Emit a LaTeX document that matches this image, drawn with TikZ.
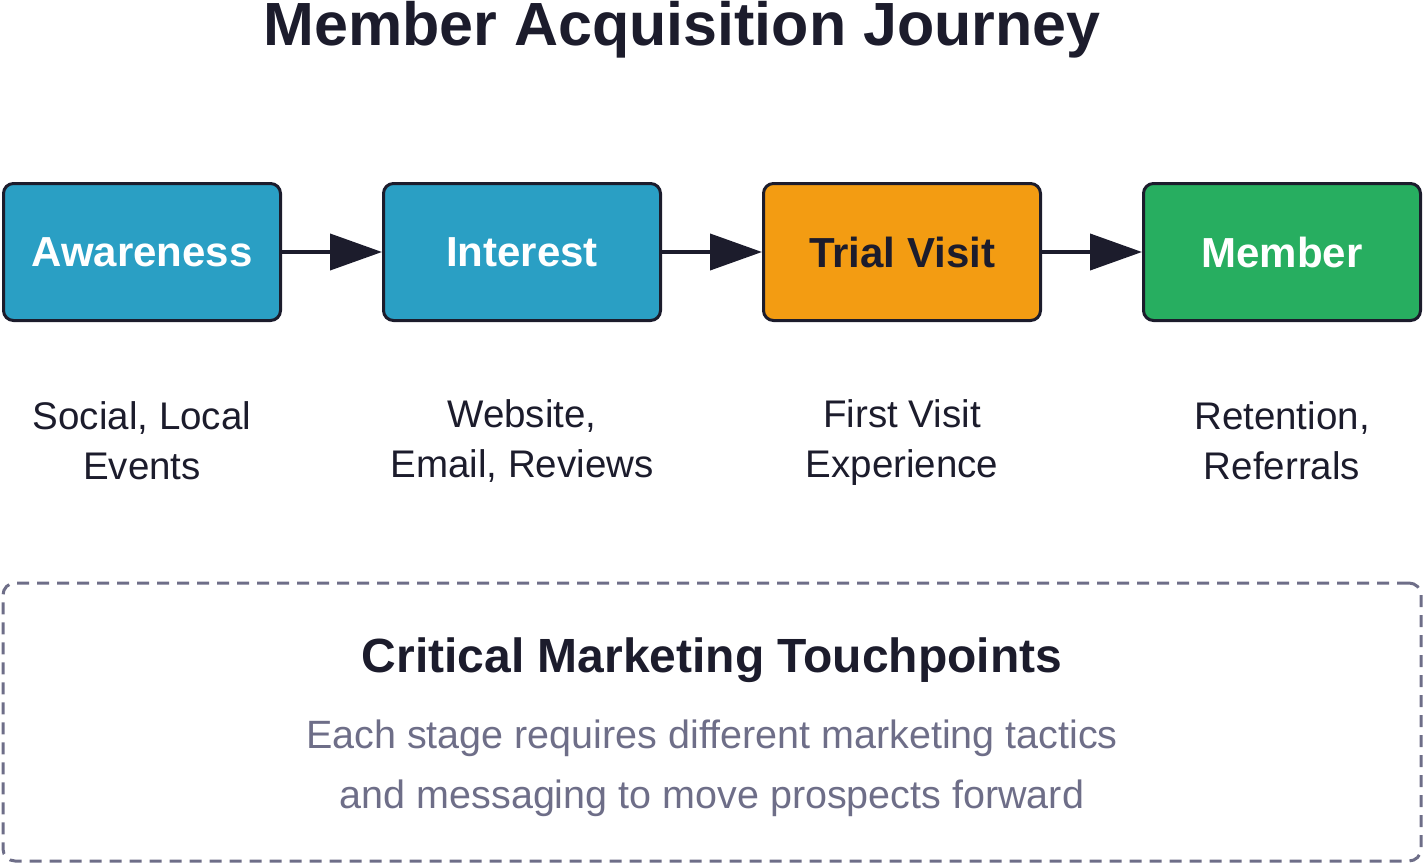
\documentclass[tikz,border=0pt]{standalone}
\usepackage{fontspec}
\setmainfont{Liberation Sans}
\usetikzlibrary{arrows.meta,positioning}
\definecolor{StageBlue}{HTML}{2A9FC4}
\definecolor{TrialOrange}{HTML}{F39C12}
\definecolor{MemberGreen}{HTML}{27AE60}
\definecolor{InkDark}{HTML}{1C1C2C}
\definecolor{NoteGray}{HTML}{6E6E88}

\begin{document}
\begin{tikzpicture}[
    x=1pt, y=-1pt,
    stage/.style={rectangle, rounded corners=10pt, draw=InkDark, line width=3pt, minimum width=277pt, minimum height=137pt, font=\fontsize{42}{48}\selectfont\bfseries, text=white},
    note/.style={font=\fontsize{38.5}{50}\selectfont, text=InkDark, align=center},
    arrow/.style={-{Triangle[length=52pt, width=36pt]}, line width=4pt, draw=InkDark}
  ]
  \useasboundingbox (0,0) rectangle (1424,864);

  % Title
  \node[font=\fontsize{61}{66}\selectfont\bfseries, text=InkDark] (title) at (682,30) {Member Acquisition Journey};

  % Stages
  \node[stage, fill=StageBlue] (aware) at (142,252) {Awareness};
  \node[stage, fill=StageBlue] (interest) at (522,252) {Interest};
  \node[stage, fill=TrialOrange, text=InkDark] (trial) at (902,252) {Trial Visit};
  \node[stage, fill=MemberGreen] (member) at (1282,252) {Member};

  % Arrows
  \draw[arrow] (aware) -- (interest);
  \draw[arrow] (interest) -- (trial);
  \draw[arrow] (trial) -- (member);

  % Channels
  \node[note] (n1) at (142,441) {Social, Local\\Events};
  \node[note] (n2) at (522,441) {Website,\\Email, Reviews};
  \node[note] (n3) at (902,443) {First Visit\\Experience};
  \node[note] (n4) at (1282,441) {Retention,\\Referrals};

  % Touchpoints box
  \node[rectangle, rounded corners=12pt, draw=NoteGray, line width=3pt, dash pattern=on 12pt off 8pt, minimum width=1418pt, minimum height=278pt] (touch) at (712,722) {};
  \node[font=\fontsize{48}{54}\selectfont\bfseries, text=InkDark] (head) at (712,660) {Critical Marketing Touchpoints};
  \node[font=\fontsize{39.5}{60}\selectfont, text=NoteGray, align=center] (body) at (712,768) {Each stage requires different marketing tactics\\and messaging to move prospects forward};
\end{tikzpicture}
\end{document}
